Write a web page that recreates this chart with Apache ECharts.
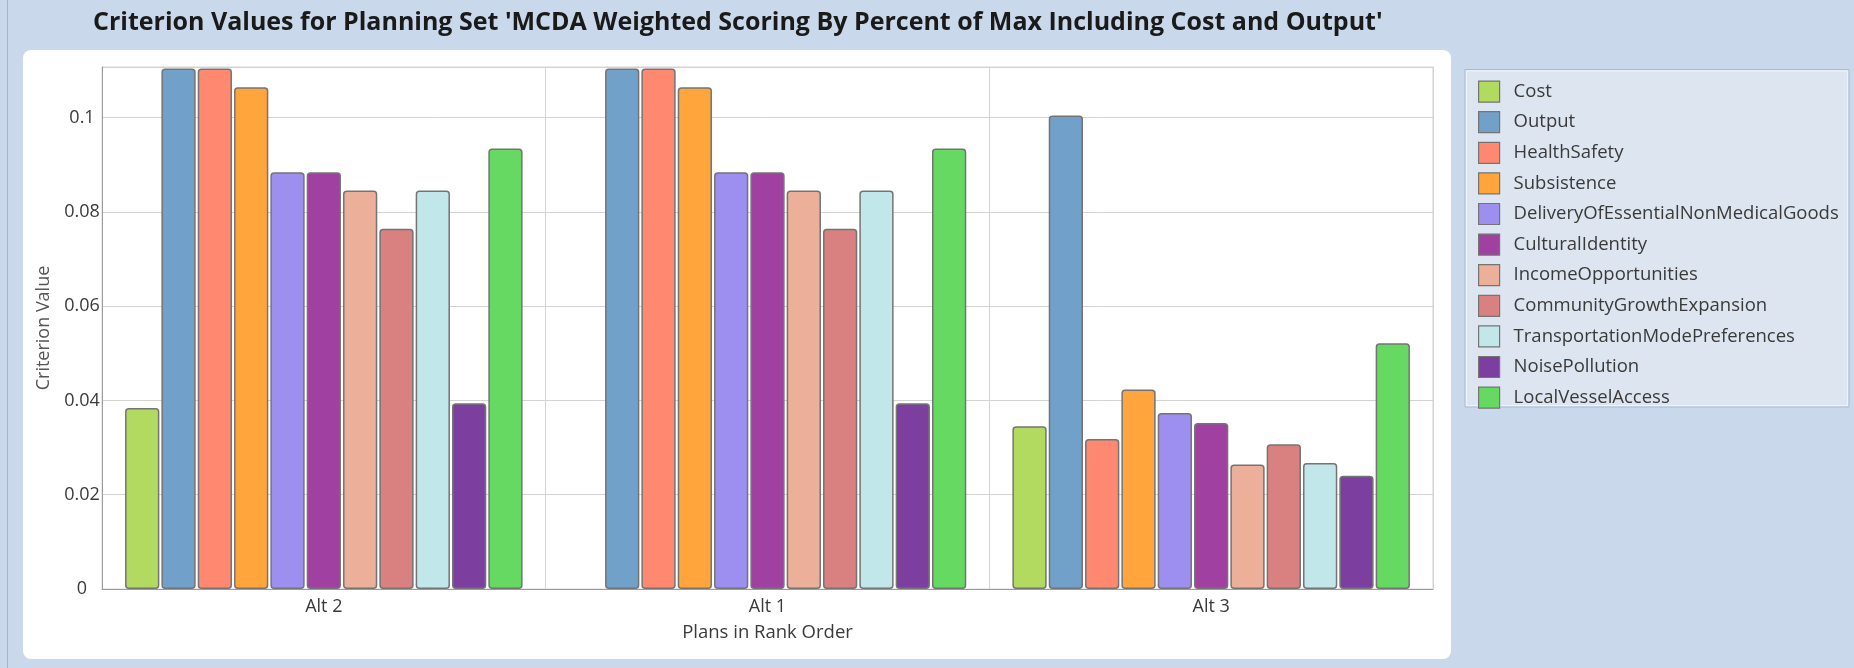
<!DOCTYPE html>
<html>
<head>
<meta charset="utf-8">
<script src="https://cdn.jsdelivr.net/npm/echarts@6/dist/echarts.min.js"></script>
<style>
  html, body { margin: 0; padding: 0; background: #C9D8EA; }
  #chart { width: 1854px; height: 668px; }
</style>
</head>
<body>
<div id="chart"></div>
<script>
// Plans, listed in rank order
const plans = ['Alt 2', 'Alt 1', 'Alt 3'];

// Criterion values per plan (Alt 2, Alt 1, Alt 3)
const cost                    = [0.0384, 0,      0.0345];
const output                  = [0.1104, 0.1104, 0.1004];
const healthSafety            = [0.1104, 0.1104, 0.0318];
const subsistence             = [0.1064, 0.1064, 0.0423];
const deliveryOfGoods         = [0.0884, 0.0884, 0.0373];
const culturalIdentity        = [0.0884, 0.0884, 0.0352];
const incomeOpportunities     = [0.0845, 0.0845, 0.0264];
const communityGrowth         = [0.0764, 0.0764, 0.0307];
const transportationModes     = [0.0845, 0.0845, 0.0267];
const noisePollution          = [0.0394, 0.0394, 0.0240];
const localVesselAccess       = [0.0934, 0.0934, 0.0521];

const criteria = [
  ['Cost', cost, '#B2D960'],
  ['Output', output, '#71A0C8'],
  ['HealthSafety', healthSafety, '#FF8870'],
  ['Subsistence', subsistence, '#FFA53C'],
  ['DeliveryOfEssentialNonMedicalGoods', deliveryOfGoods, '#9D8FEF'],
  ['CulturalIdentity', culturalIdentity, '#A040A0'],
  ['IncomeOpportunities', incomeOpportunities, '#ECAF9A'],
  ['CommunityGrowthExpansion', communityGrowth, '#D98080'],
  ['TransportationModePreferences', transportationModes, '#C1E7EB'],
  ['NoisePollution', noisePollution, '#7C3FA0'],
  ['LocalVesselAccess', localVesselAccess, '#66D962']
];

const yTicks = { min: 0, max: 0.1107, interval: 0.02 };

const FONT = '"Open Sans", "Noto Sans", sans-serif';
const TEXT_COLOR = '#3a3a3a';

const chart = echarts.init(document.getElementById('chart'), null, { renderer: 'canvas' });

// zero-height bars get no outline so nothing shows on the baseline
const series = criteria.map(([name, values, color]) => ({
  name,
  type: 'bar',
  data: values.map(v => (v === 0 ? { value: v, itemStyle: { borderWidth: 0 } } : v)),
  barGap: '6%',
  barCategoryGap: '10.4%',
  itemStyle: {
    color,
    borderColor: '#747474',
    borderWidth: 1.5,
    borderRadius: 3
  },
  emphasis: { disabled: true }
}));

chart.setOption({
  backgroundColor: '#C9D8EA',
  animation: false,
  textStyle: { fontFamily: FONT },
  title: {
    text: "Criterion Values for Planning Set 'MCDA Weighted Scoring By Percent of Max Including Cost and Output'",
    left: 88,
    top: 5,
    textStyle: { fontFamily: FONT, fontSize: 25, fontWeight: 'bold', color: '#1a1a1a' }
  },
  graphic: [
    { type: 'rect', z: -10, shape: { x: 23, y: 50, width: 1428, height: 609, r: 8 },
      style: { fill: '#ffffff' }, silent: true },
    { type: 'rect', z: -10, shape: { x: 1465, y: 69.5, width: 384, height: 337.5 },
      style: { fill: '#DCE5F0', stroke: '#A9BBD2', lineWidth: 1 }, silent: true },
    { type: 'rect', z: -10, shape: { x: 1466.5, y: 71, width: 381, height: 334.5 },
      style: { fill: 'none', stroke: '#EEF3F9', lineWidth: 1 }, silent: true },
    { type: 'line', z: -10, shape: { x1: 7.5, y1: 0, x2: 7.5, y2: 668 },
      style: { stroke: '#A7B7CB', lineWidth: 1 }, silent: true }
  ],
  legend: {
    orient: 'vertical',
    left: 1478,
    top: 80.5,
    padding: 0,
    itemWidth: 21,
    itemHeight: 21,
    itemGap: 8.4,
    icon: 'rect',
    selectedMode: false,
    itemStyle: { borderColor: '#747474', borderWidth: 1.2 },
    textStyle: { fontFamily: FONT, fontSize: 18.5, lineHeight: 21, color: TEXT_COLOR, padding: [0, 0, 0, 9] },
    data: criteria.map(c => c[0])
  },
  grid: {
    left: 102, right: 421, top: 67, bottom: 79,
    show: true, borderColor: '#D3D3D3', borderWidth: 1,
    containLabel: false
  },
  xAxis: {
    type: 'category',
    data: plans,
    name: 'Plans in Rank Order',
    nameLocation: 'middle',
    nameGap: 34,
    nameTextStyle: { fontFamily: FONT, fontSize: 18.5, color: TEXT_COLOR, verticalAlign: 'top' },
    axisLine: { show: true, lineStyle: { color: '#9C9C9C', width: 1 } },
    axisTick: { show: false },
    axisLabel: { fontFamily: FONT, fontSize: 18, color: TEXT_COLOR, margin: 9 },
    splitLine: { show: true, lineStyle: { color: '#D3D3D3', width: 1 } }
  },
  yAxis: {
    type: 'value',
    min: yTicks.min,
    max: yTicks.max,
    interval: yTicks.interval,
    name: 'Criterion Value',
    nameLocation: 'middle',
    nameGap: 40,
    nameTextStyle: { fontFamily: FONT, fontSize: 18, color: '#555555' },
    axisLine: { show: true, lineStyle: { color: '#9C9C9C', width: 1 } },
    axisTick: { show: false },
    axisLabel: {
      fontFamily: FONT, fontSize: 18, color: TEXT_COLOR,
      align: 'center', margin: 20,
      showMaxLabel: false,
      formatter: v => String(+v.toFixed(4))
    },
    splitLine: { show: true, lineStyle: { color: '#D3D3D3', width: 1 } }
  },
  series
});
</script>
</body>
</html>
